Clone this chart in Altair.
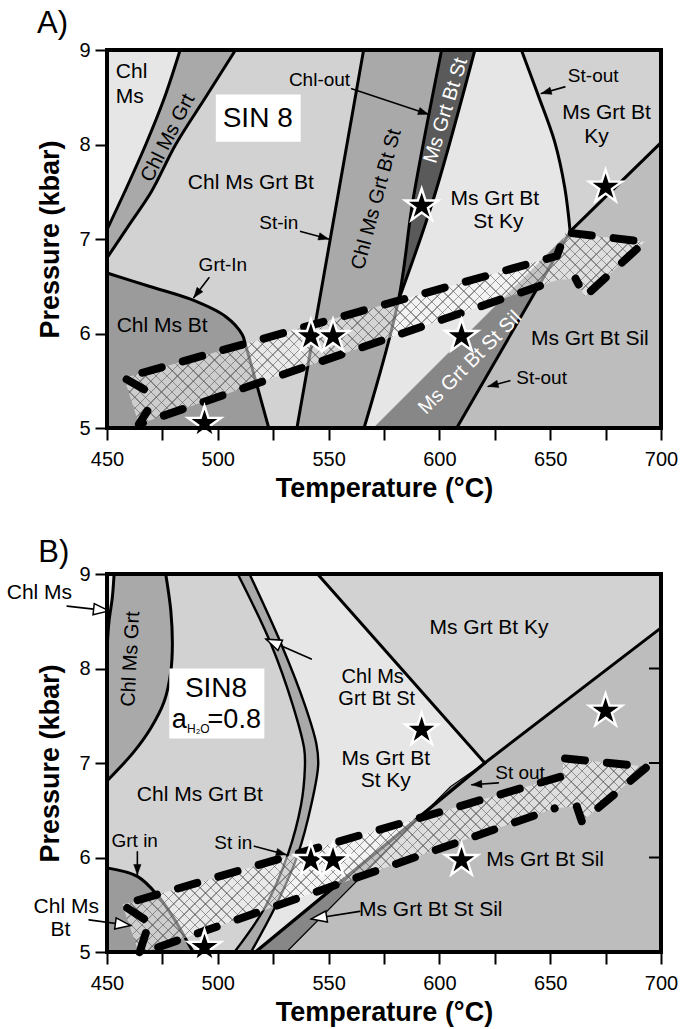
import math
import altair as alt
import pandas as pd

# ---------------- geometry of the plot area ----------------
W, H = 554, 378
TMIN, TMAX, PMIN, PMAX = 450, 700, 5, 9
SX = W / (TMAX - TMIN)
SY = H / (PMAX - PMIN)
FONT = "Liberation Sans"

# field colours
C_LIGHT = "#e6e6e6"
C_MID = "#d2d2d2"
C_GREY = "#a9a9a9"
C_DGREY = "#9b9b9b"
C_SIL = "#bdbdbd"
C_STSIL = "#878787"
C_DARK = "#5a5a5a"

# ---------------- Panel A boundaries (T in °C, P in kbar) ----------------
A_CHLMS_T = [450, 458, 467.5, 476, 483]
A_CHLMS_P = [7.1, 7.5, 8.0, 8.5, 9.0]
A_GRT_T = [450, 460, 470, 481, 494.5, 508]
A_GRT_P = [6.8, 7.15, 7.5, 8.0, 8.5, 9.0]
A_GRTIN_T = [450, 469, 488, 503.5, 511, 512.5, 523]
A_GRTIN_P = [6.64, 6.5, 6.36, 6.18, 5.99, 5.88, 5.0]
A_STIN_T = [535.7, 565.8]
A_STIN_P = [5.0, 9.0]
A_CHLOUT_T = [566, 581.5, 588, 601]
A_CHLOUT_P = [5.0, 6.35, 7.4, 9.0]
A_STBAND_T = [581.5, 597, 616]
A_STBAND_P = [6.35, 7.4, 9.0]
A_STOUT1_T = [637, 644.6, 652, 656.6, 659]
A_STOUT1_P = [9.0, 8.52, 8.03, 7.54, 7.08]
A_KYSIL_T = [570.3, 659, 700]
A_KYSIL_P = [5.0, 7.08, 8.02]
A_STOUT2_T = [607.8, 659]
A_STOUT2_P = [5.0, 7.08]

# dashed P-T path arrow, panel A
A_ARR_UP_T = [466.7, 457.7, 653, 657, 692.6, 665.6, 661.5]
A_ARR_UP_P = [5.41, 5.53, 6.82, 7.07, 6.97, 6.39, 6.58]
A_ARR_LO_T = [468.2, 464.4, 653.6]
A_ARR_LO_P = [5.18, 5.04, 6.57]

# ---------------- Panel B boundaries ----------------
B_CHLMS_T = [453.2, 452.4, 450.9, 450]
B_CHLMS_P = [9.0, 8.75, 8.5, 8.19]
B_GRT_T = [476.5, 478.8, 479.5, 478.8, 475.8, 469.8, 462.2, 450]
B_GRT_P = [9.0, 8.61, 8.26, 7.97, 7.65, 7.37, 7.12, 6.81]
B_GRTIN_T = [450, 463.7, 472.8, 480.3, 487.9, 489]
B_GRTIN_P = [5.89, 5.80, 5.60, 5.35, 5.04, 5.0]
B_STINL_T = [509, 524, 534, 539, 539.3, 537.6, 531.6, 521, 507.5]
B_STINL_P = [9.0, 8.26, 7.6, 7.15, 6.95, 6.56, 6.03, 5.46, 5.0]
B_STINR_T = [514.3, 528.6, 539.5, 544.5, 545.3, 542.2, 536.1, 527, 515]
B_STINR_P = [9.0, 8.26, 7.6, 7.2, 6.98, 6.56, 6.03, 5.53, 5.0]
B_STOUT1_T = [545, 620.5]
B_STOUT1_P = [9.0, 7.0]
B_KYSIL_T = [620.5, 700]
B_KYSIL_P = [7.0, 8.43]
B_STOUT2_T = [517, 620.5]
B_STOUT2_P = [5.0, 7.0]
B_SIL2_T = [531, 605, 620.5]
B_SIL2_P = [5.0, 6.75, 7.0]

B_ARR_UP_T = [466.7, 456.9, 655.5, 656, 693.7, 664.3, 662]
B_ARR_UP_P = [5.35, 5.50, 6.86, 7.05, 6.96, 6.38, 6.54]
B_ARR_LO_T = [467.5, 464.5, 652]
B_ARR_LO_P = [5.20, 4.98, 6.52]

# samples (stars), same in both panels
STAR_T = [494, 542, 552, 592, 610, 675]
STAR_P = [5.05, 5.97, 5.97, 7.35, 5.97, 7.55]

# ---------------- labels ----------------
# (text, T, P, angle, colour, font size)
A_LABELS_C = [
    ("Chl Ms Grt", 477.5, 8.07, 297, "black", 20),
    ("Chl Ms Grt Bt", 514.9, 7.59, 0, "black", 21),
    ("Grt-In", 502.3, 6.73, 0, "black", 19),
    ("Chl Ms Bt", 474.9, 6.08, 0, "black", 21),
    ("St-in", 527.5, 7.17, 0, "black", 19),
    ("Chl-out", 545.9, 8.68, 0, "black", 19),
    ("Chl Ms Grt Bt St", 571.6, 7.42, 285, "black", 20),
    ("Ms Grt Bt St", 602.9, 8.36, 287, "white", 20),
    ("Ms Grt Bt", 625, 7.42, 0, "black", 21),
    ("St Ky", 626.6, 7.18, 0, "black", 21),
    ("St-out", 669.4, 8.73, 0, "black", 19),
    ("Ms Grt Bt", 675.4, 8.33, 0, "black", 21),
    ("Ky", 670.9, 8.08, 0, "black", 21),
    ("Ms Grt Bt Sil", 667.9, 5.94, 0, "black", 21),
    ("St-out", 646.1, 5.53, 0, "black", 19),
    ("Ms Grt Bt St Sil", 613.8, 5.69, 315, "white", 20),
    ("SIN 8", 518, 8.27, 0, "black", 28),
]
A_LABELS_L = [
    ("Chl", 454, 8.77, 0, "black", 21),
    ("Ms", 454, 8.50, 0, "black", 21),
    ("A)", 418.4, 9.27, 0, "black", 31),
]
B_LABELS_C = [
    ("Chl Ms Grt", 460.7, 8.10, 273, "black", 20),
    ("Chl Ms Grt Bt", 491.9, 6.66, 0, "black", 21),
    ("Grt in", 462.5, 6.17, 0, "black", 19),
    ("St in", 507, 6.15, 0, "black", 19),
    ("Chl Ms", 569.9, 7.91, 0, "black", 20),
    ("Grt Bt St", 571.7, 7.68, 0, "black", 20),
    ("Ms Grt Bt Ky", 622.4, 8.43, 0, "black", 21),
    ("Ms Grt Bt", 575.8, 7.04, 0, "black", 21),
    ("St Ky", 575.8, 6.81, 0, "black", 21),
    ("St out", 636.4, 6.89, 0, "black", 19),
    ("Ms Grt Bt Sil", 647.7, 5.97, 0, "black", 21),
    ("Ms Grt Bt St Sil", 596.1, 5.44, 0, "black", 21),
    ("Chl Ms", 419.5, 8.80, 0, "black", 21),
    ("Chl Ms", 431.6, 5.48, 0, "black", 21),
    ("Bt", 429.0, 5.23, 0, "black", 21),
    ("SIN8", 499.2, 7.78, 0, "black", 28),
    ("a", 482.6, 7.46, 0, "black", 27),
    ("H\u2082O", 491.2, 7.36, 0, "black", 12),
]
B_LABELS_L = [
    ("=0.8", 495.4, 7.46, 0, "black", 27),
    ("B)", 419.0, 9.22, 0, "black", 31),
]

# label boxes (T1, T2, P1, P2)
A_BOX = [(499.1, 537.4, 8.03, 8.53)]
B_BOX = [(478.1, 521.0, 7.26, 8.0)]

# pointer arrows: (T start, P start, T end, P end)
A_POINTERS = [
    (560.4, 8.59, 595.0, 8.32),
    (537.4, 7.08, 550.0, 7.00),
    (496.0, 6.59, 489.2, 6.38),
    (656.6, 8.61, 646.0, 8.54),
    (631.8, 5.50, 622.0, 5.44),
]
B_POINTERS_FILLED = [
    (463.7, 6.06, 463.7, 5.82),
    (516.5, 6.12, 530.9, 6.03),
    (626.6, 6.79, 614.6, 6.77),
]
B_POINTERS_OPEN = [
    (432.0, 8.66, 450.9, 8.61),
    (441.9, 5.34, 460.7, 5.28),
    (542.2, 8.10, 521.8, 8.31),
    (564.0, 5.43, 542.2, 5.35),
]
B_RIGHT_TICKS = [6, 7, 8]

STAR_PATH = ("M0,-1L0.2245,-0.309L0.9511,-0.309L0.3633,0.118L0.5878,0.809"
             "L0,0.382L-0.5878,0.809L-0.3633,0.118L-0.9511,-0.309L-0.2245,-0.309Z")
HEAD_PATH = "M0,0L-1.7,-0.62L-1.7,0.62Z"

# ---------------- helpers ----------------
XSC = alt.Scale(domain=[TMIN, TMAX], nice=False, zero=False)
YSC = alt.Scale(domain=[PMIN, PMAX], nice=False, zero=False)
XAX = alt.Axis(title="Temperature (°C)", values=list(range(450, 701, 25)),
               labelExpr="datum.value % 50 == 0 ? datum.label : ''",
               grid=False, domain=False, tickSize=12, tickWidth=2, tickColor="black",
               labelFont=FONT, labelFontSize=20, labelColor="black", labelPadding=9,
               labelFlush=False, titleFont=FONT, titleFontSize=27, titleFontWeight="bold",
               titleColor="black", titlePadding=6)
YAX = alt.Axis(title="Pressure (kbar)", values=[5, 6, 7, 8, 9], format="d",
               grid=False, domain=False, tickSize=12, tickWidth=2, tickColor="black",
               labelFont=FONT, labelFontSize=20, labelColor="black", labelPadding=5,
               labelFlush=False, titleFont=FONT, titleFontSize=27, titleFontWeight="bold",
               titleColor="black", titlePadding=14)


def ex(f="T"):
    return alt.X(f"{f}:Q", scale=XSC, axis=XAX)


def ey(f="P"):
    return alt.Y(f"{f}:Q", scale=YSC, axis=YAX)


def pts(T, P):
    return list(zip(T, P))


def frame(points):
    return pd.DataFrame({"T": [p[0] for p in points], "P": [p[1] for p in points],
                         "i": list(range(len(points)))})


def poly(points, color, opacity=1.0, stroke=True):
    kw = dict(interpolate="linear-closed", fill=color, fillOpacity=opacity)
    if stroke:
        kw.update(stroke=color, strokeWidth=0.6, strokeOpacity=opacity)
    else:
        kw.update(strokeWidth=0, strokeOpacity=0)
    return alt.Chart(frame(points)).mark_line(**kw).encode(x=ex(), y=ey(), order="i:Q")


def line(points, width=3.0, interp="catmull-rom", color="black", dash=None):
    kw = dict(interpolate=interp, stroke=color, strokeWidth=width,
              strokeCap="round", strokeJoin="round")
    if dash is not None:
        kw["strokeDash"] = dash
    return alt.Chart(frame(points)).mark_line(**kw).encode(x=ex(), y=ey(), order="i:Q")


def full_rect(color):
    return poly([(TMIN, PMIN), (TMAX, PMIN), (TMAX, PMAX), (TMIN, PMAX)], color)


def labels(rows, align):
    df = pd.DataFrame(rows, columns=["text", "T", "P", "ang", "col", "fs"])
    return alt.Chart(df).mark_text(font=FONT, align=align, baseline="middle").encode(
        x=ex(), y=ey(), text="text:N",
        angle=alt.Angle("ang:Q", scale=None),
        color=alt.Color("col:N", scale=None),
        size=alt.Size("fs:Q", scale=None))


def boxes(rows):
    df = pd.DataFrame(rows, columns=["T", "T2", "P", "P2"])
    return alt.Chart(df).mark_rect(fill="white").encode(x=ex(), x2="T2:Q", y=ey(), y2="P2:Q")


def pointers(rows, open_head=False):
    layers = []
    heads = []
    for (t1, p1, t2, p2) in rows:
        layers.append(line([(t1, p1), (t2, p2)], width=1.6, interp="linear"))
        ang = math.degrees(math.atan2(-(p2 - p1) * SY, (t2 - t1) * SX)) % 360
        heads.append({"T": t2, "P": p2, "ang": ang})
    hdf = pd.DataFrame(heads)
    if open_head:
        head = alt.Chart(hdf).mark_point(shape=HEAD_PATH, filled=True, fill="white",
                                         stroke="black", strokeWidth=1.5, size=330, opacity=1)
    else:
        head = alt.Chart(hdf).mark_point(shape=HEAD_PATH, filled=True, fill="black",
                                         stroke="black", strokeWidth=0.5, size=140, opacity=1)
    head = head.encode(x=ex(), y=ey(), angle=alt.Angle("ang:Q", scale=None))
    return layers + [head]


def stars():
    df = pd.DataFrame({"T": STAR_T, "P": STAR_P})
    return alt.Chart(df).mark_point(shape=STAR_PATH, filled=True, fill="black",
                                    stroke="white", strokeWidth=2.4, size=1200,
                                    opacity=1).encode(x=ex(), y=ey())


def hatch_gradient(points, flip, spacing=7.5, lw=1.0,
                   ink="rgba(80,80,80,0.55)", clear="rgba(255,255,255,0)"):
    """Diagonal line pattern as a hard-stop linear gradient (bounding-box units)."""
    ts = [p[0] for p in points]
    ps = [p[1] for p in points]
    w = (max(ts) - min(ts)) * SX
    h = (max(ps) - min(ps)) * SY
    r = h / w
    k = (1 + r) / (1 + r * r) * 1.02
    scale = w * k * (1 + r * r)
    dt = math.sqrt(2) * spacing / scale
    dl = math.sqrt(2) * lw / scale
    stops = [{"offset": 0, "color": clear}]
    t = dt / 2
    while t + dl < 1:
        stops += [{"offset": round(t, 5), "color": clear},
                  {"offset": round(t, 5), "color": ink},
                  {"offset": round(t + dl, 5), "color": ink},
                  {"offset": round(t + dl, 5), "color": clear}]
        t += dt
    stops.append({"offset": 1, "color": clear})
    if flip:
        return {"gradient": "linear", "x1": 0, "y1": 1, "x2": k, "y2": 1 - k * r, "stops": stops}
    return {"gradient": "linear", "x1": 0, "y1": 0, "x2": k, "y2": k * r, "stops": stops}


def arrow(up_T, up_P, lo_T, lo_P):
    up = pts(up_T, up_P)
    lo = pts(lo_T, lo_P)
    fill_pts = up[1:] + lo[2:][::-1] + lo[1:2]
    layers = [poly(fill_pts, "#ffffff", opacity=0.5, stroke=False)]
    for flip in (False, True):
        layers.append(alt.Chart(frame(fill_pts)).mark_line(
            interpolate="linear-closed", fill=hatch_gradient(fill_pts, flip),
            strokeWidth=0, strokeOpacity=0).encode(x=ex(), y=ey(), order="i:Q"))
    d = [20, 22]
    layers += [line(up, width=8, interp="linear", dash=d),
               line(lo, width=8, interp="linear", dash=d)]
    return layers


def border():
    df = pd.DataFrame({"k": [0]})
    return alt.Chart(df).mark_rect(filled=False, stroke="black", strokeWidth=4).encode(
        x=alt.value(0), x2=alt.value(W), y=alt.value(0), y2=alt.value(H))


# ---------------- Panel A ----------------
a_chlms = pts(A_CHLMS_T, A_CHLMS_P)
a_grt = pts(A_GRT_T, A_GRT_P)
a_grtin = pts(A_GRTIN_T, A_GRTIN_P)
a_stin = pts(A_STIN_T, A_STIN_P)
a_chlout = pts(A_CHLOUT_T, A_CHLOUT_P)
a_stband = pts(A_STBAND_T, A_STBAND_P)
a_stout1 = pts(A_STOUT1_T, A_STOUT1_P)
a_kysil = pts(A_KYSIL_T, A_KYSIL_P)
a_stout2 = pts(A_STOUT2_T, A_STOUT2_P)

A_layers = [
    full_rect(C_MID),
    poly([(TMIN, PMAX)] + a_chlms[::-1], C_LIGHT),
    poly(a_chlms + a_grt[::-1], C_GREY),
    poly(a_grtin + [(TMIN, PMIN)], C_DGREY),
    poly(a_stin + a_chlout[::-1], C_GREY),
    poly(a_chlout[1:] + a_stband[::-1], C_DARK),
    poly(a_stband + a_stout1 + [a_kysil[0], a_chlout[0]], C_LIGHT),
    poly(a_stout1 + [(TMAX, a_kysil[2][1]), (TMAX, PMAX)], C_MID),
    poly([a_kysil[1], a_kysil[2], (TMAX, PMIN), a_stout2[0]], C_SIL),
    poly([a_kysil[0], a_stout2[0], a_kysil[1]], C_STSIL),
    line(a_chlms), line(a_grt), line(a_grtin), line(a_stin, interp="linear"),
    line(a_chlout), line(a_stband), line(a_stout1), line(a_kysil[1:], interp="linear"),
    line(a_stout2, interp="linear"),
]
A_layers += arrow(A_ARR_UP_T, A_ARR_UP_P, A_ARR_LO_T, A_ARR_LO_P)
A_layers += [boxes(A_BOX), labels(A_LABELS_C, "center"), labels(A_LABELS_L, "left")]
A_layers += pointers(A_POINTERS)
A_layers += [stars(), border()]

panelA = alt.layer(*A_layers).properties(width=W, height=H)

# ---------------- Panel B ----------------
b_chlms = pts(B_CHLMS_T, B_CHLMS_P)
b_grt = pts(B_GRT_T, B_GRT_P)
b_grtin = pts(B_GRTIN_T, B_GRTIN_P)
b_stinl = pts(B_STINL_T, B_STINL_P)
b_stinr = pts(B_STINR_T, B_STINR_P)
b_stout1 = pts(B_STOUT1_T, B_STOUT1_P)
b_kysil = pts(B_KYSIL_T, B_KYSIL_P)
b_stout2 = pts(B_STOUT2_T, B_STOUT2_P)
b_sil2 = pts(B_SIL2_T, B_SIL2_P)

B_layers = [
    full_rect(C_MID),
    poly([(TMIN, PMAX)] + b_chlms, C_LIGHT),
    poly(b_chlms + b_grt[::-1], C_GREY),
    poly(b_grtin + [(TMIN, PMIN)], C_DGREY),
    poly(b_stinl + b_stinr[::-1], C_GREY),
    poly(b_stinr + [b_stout2[0], b_stout2[1], b_stout1[0]], C_LIGHT),
    poly([b_stout1[0], b_stout1[1], b_kysil[1], (TMAX, PMAX)], C_MID),
    poly([b_kysil[0], b_kysil[1], (TMAX, PMIN)] + b_sil2[:2], C_SIL),
    poly([b_stout2[0]] + b_sil2, C_STSIL),
    line(b_chlms), line(b_grt), line(b_grtin),
    line(b_stinl, width=2.4), line(b_stinr, width=2.4),
    line(b_stout1, interp="linear"), line(b_kysil, interp="linear"),
    line(b_stout2, width=3.4, interp="linear"), line(b_sil2, width=1.2, interp="linear"),
]
B_layers += arrow(B_ARR_UP_T, B_ARR_UP_P, B_ARR_LO_T, B_ARR_LO_P)
B_layers += [boxes(B_BOX), labels(B_LABELS_C, "center"), labels(B_LABELS_L, "left")]
B_layers += pointers(B_POINTERS_FILLED)
B_layers += pointers(B_POINTERS_OPEN, open_head=True)
tick_df = pd.DataFrame({"P": B_RIGHT_TICKS})
B_layers += [alt.Chart(tick_df).mark_rule(color="black", strokeWidth=2).encode(
    x=alt.value(W - 12), x2=alt.value(W), y=ey())]
B_layers += [stars(), border()]

panelB = alt.layer(*B_layers).properties(width=W, height=H)

chart = alt.vconcat(panelA, panelB, spacing=146, bounds="flush").properties(
    padding={"left": 6, "top": 8, "right": 4, "bottom": 4}
).configure_view(strokeWidth=0)

chart.save("out.html", embed_options={"renderer": "svg", "actions": False})
